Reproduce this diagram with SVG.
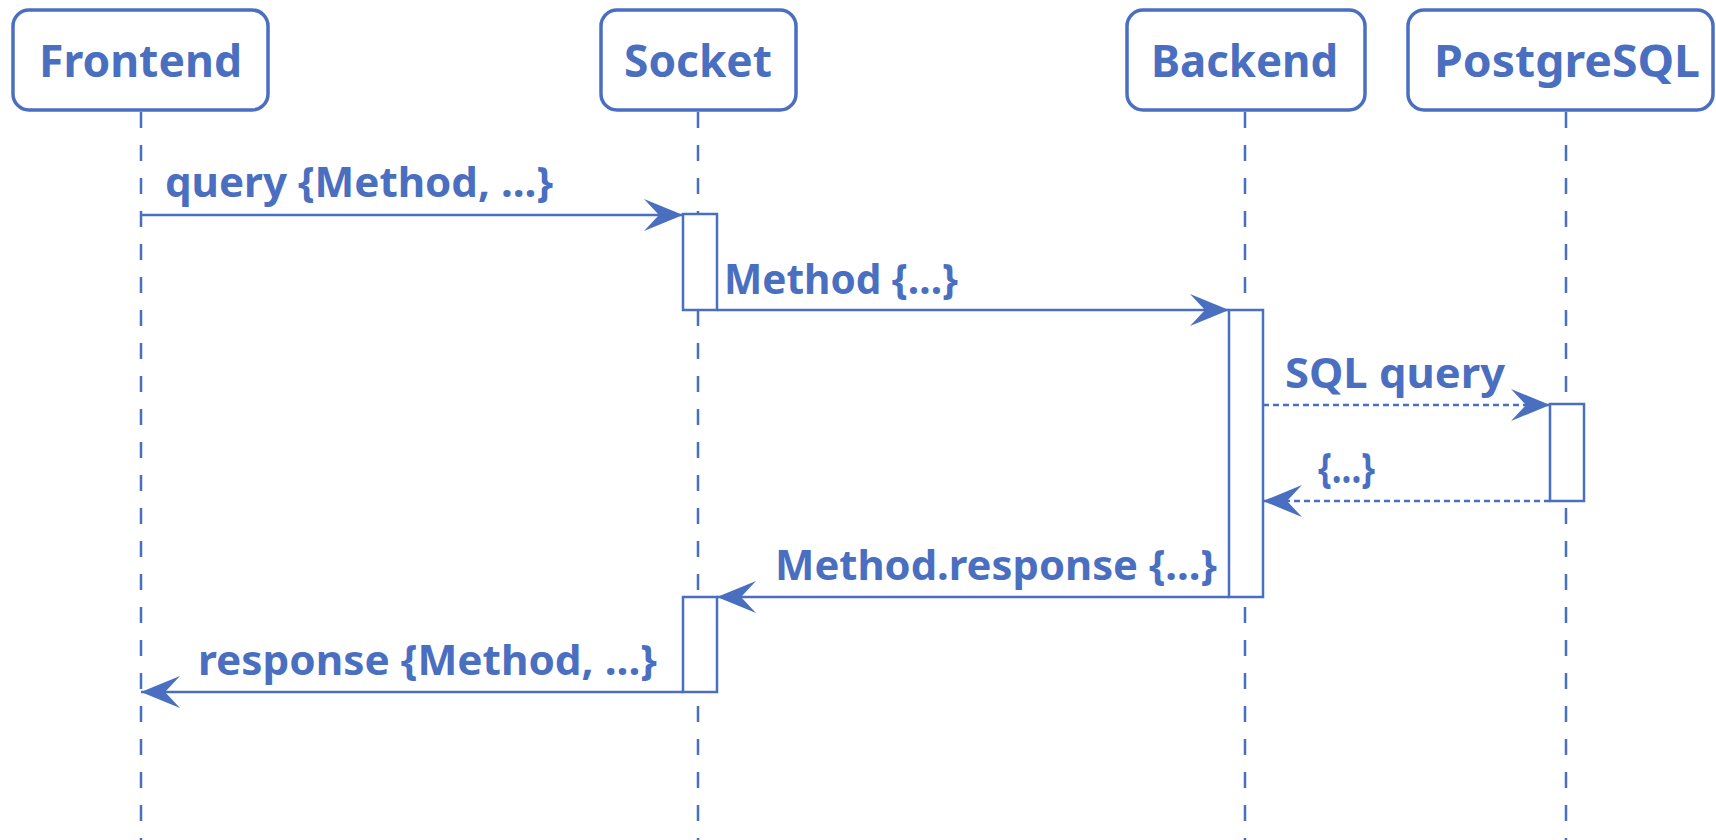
<svg xmlns="http://www.w3.org/2000/svg" width="1716" height="840" viewBox="0 0 1716 840">
  <style>
    .box { fill: #ffffff; stroke: #4a6fc1; stroke-width: 3.5; }
    .act { fill: #ffffff; stroke: #4a6fc1; stroke-width: 2.5; }
    .life { stroke: #4a6fc1; stroke-width: 2.5; stroke-dasharray: 16 17; fill: none; }
    .msg { stroke: #4a6fc1; stroke-width: 2.5; fill: none; }
    .ret { stroke: #4a6fc1; stroke-width: 2.5; fill: none; stroke-dasharray: 6 4; }
    .ptxt { font-family: "Noto Sans", "Open Sans", "DejaVu Sans", sans-serif; font-weight: bold; font-size: 44px; fill: #4a6fc1; }
    .mtxt { font-family: "Noto Sans", "Open Sans", "DejaVu Sans", sans-serif; font-weight: bold; font-size: 41px; fill: #4a6fc1; }
  </style>
  <defs>
    <marker id="arrow" viewBox="-40 -18 42 36" refX="0" refY="0" markerWidth="42" markerHeight="36" markerUnits="userSpaceOnUse" orient="auto">
      <path d="M0,0 L-39,-16 L-24,0 L-39,16 Z" fill="#4a6fc1"/>
    </marker>
  </defs>
  <rect width="1716" height="840" fill="#ffffff"/>

  <g id="lifelines">
    <line class="life" x1="141" y1="112" x2="141" y2="840"/>
    <line class="life" x1="698" y1="112" x2="698" y2="840"/>
    <line class="life" x1="1245" y1="112" x2="1245" y2="840"/>
    <line class="life" x1="1566" y1="112" x2="1566" y2="840"/>
  </g>

  <g id="frontend">
    <rect class="box" x="13" y="10" width="255" height="100" rx="16" ry="16"/>
    <text class="ptxt" x="140.5" y="77" text-anchor="middle" textLength="203" lengthAdjust="spacingAndGlyphs">Frontend</text>
  </g>
  <g id="socket">
    <rect class="box" x="601" y="10" width="195" height="100" rx="16" ry="16"/>
    <text class="ptxt" x="698" y="77" text-anchor="middle" textLength="148" lengthAdjust="spacingAndGlyphs">Socket</text>
  </g>
  <g id="backend">
    <rect class="box" x="1127" y="10" width="238" height="100" rx="16" ry="16"/>
    <text class="ptxt" x="1244.5" y="77" text-anchor="middle" textLength="187" lengthAdjust="spacingAndGlyphs">Backend</text>
  </g>
  <g id="postgresql">
    <rect class="box" x="1408" y="10" width="305" height="100" rx="16" ry="16"/>
    <text class="ptxt" x="1567" y="77" text-anchor="middle" textLength="266" lengthAdjust="spacingAndGlyphs">PostgreSQL</text>
  </g>

  <g id="activations">
    <rect id="act-socket-1" class="act" x="683" y="214" width="34" height="96"/>
    <rect id="act-backend" class="act" x="1229" y="310" width="34" height="287"/>
    <rect id="act-postgresql" class="act" x="1550" y="404" width="34" height="97"/>
    <rect id="act-socket-2" class="act" x="683" y="597" width="34" height="95"/>
  </g>

  <g id="connectors">
    <line class="msg" x1="141" y1="215" x2="683" y2="215" marker-end="url(#arrow)"/>
    <line class="msg" x1="717" y1="310" x2="1229" y2="310" marker-end="url(#arrow)"/>
    <line class="ret" x1="1263" y1="405" x2="1550" y2="405" marker-end="url(#arrow)"/>
    <line class="ret" x1="1550" y1="501" x2="1263" y2="501" marker-end="url(#arrow)"/>
    <line class="msg" x1="1229" y1="597" x2="717" y2="597" marker-end="url(#arrow)"/>
    <line class="msg" x1="683" y1="692" x2="141" y2="692" marker-end="url(#arrow)"/>
  </g>

  <g id="labels">
    <text class="mtxt" x="165" y="197" textLength="388" lengthAdjust="spacingAndGlyphs">query {Method, ...}</text>
    <text class="mtxt" x="724" y="294" textLength="234" lengthAdjust="spacingAndGlyphs">Method {...}</text>
    <text class="mtxt" x="1285" y="388" textLength="220" lengthAdjust="spacingAndGlyphs">SQL query</text>
    <text class="mtxt" x="1318" y="483" textLength="57" lengthAdjust="spacingAndGlyphs">{...}</text>
    <text class="mtxt" x="775" y="580" textLength="442" lengthAdjust="spacingAndGlyphs">Method.response {...}</text>
    <text class="mtxt" x="198" y="675" textLength="459" lengthAdjust="spacingAndGlyphs">response {Method, ...}</text>
  </g>
</svg>
